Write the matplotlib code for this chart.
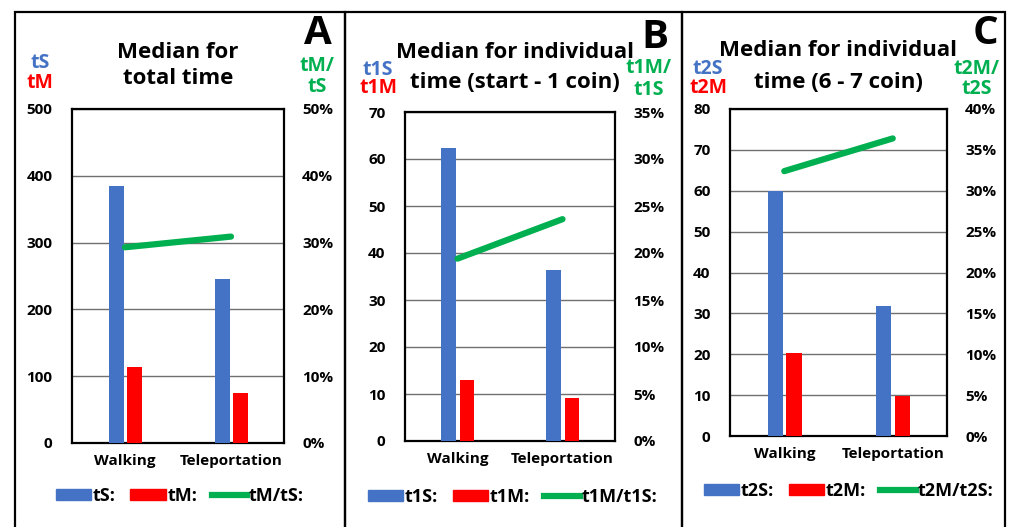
import matplotlib
matplotlib.use("Agg")
import matplotlib.pyplot as plt
from matplotlib.patches import Patch, Rectangle
from matplotlib.lines import Line2D
from matplotlib.ticker import FuncFormatter

W, H = 1009, 527
BLUE, RED, GREEN = "#4472C4", "#FF0000", "#00B050"

CATS = ["Walking", "Teleportation"]

# panel A: total time
A_S = [384, 246]
A_M = [114, 75]
A_RATIO = [29.3, 30.9]
# panel B: start - 1 coin
B_S = [62.3, 36.3]
B_M = [13.0, 9.2]
B_RATIO = [19.4, 23.6]
# panel C: 6 - 7 coin
C_S = [60, 31.9]
C_M = [20.4, 9.9]
C_RATIO = [32.4, 36.4]

plt.rcParams["font.family"] = ["Open Sans", "DejaVu Sans"]
plt.rcParams["font.weight"] = "bold"

fig = plt.figure(figsize=(W / 100, H / 100), dpi=100)


def px(x, y):
    return x / W, 1 - y / H


def panel(box, s, m, r, ymax, ystep, rmax, rstep, sname, mname, title, letter, txt):
    l, t, rgt, b = box
    ax = fig.add_axes([l / W, (H - b) / H, (rgt - l) / W, (b - t) / H])
    x = range(len(CATS))
    ax.bar([i - 0.083 for i in x], s, width=0.14, color=BLUE, zorder=3)
    ax.bar([i + 0.09 for i in x], m, width=0.14, color=RED, zorder=3)
    ax.set_xlim(-0.5, 1.5)
    ax.set_ylim(0, ymax)
    ax.set_yticks([i * ystep for i in range(int(round(ymax / ystep)) + 1)])
    ax.yaxis.grid(True, color="#707070", lw=1, zorder=0)
    ax.set_xticks(list(x))
    ax.set_xticklabels(CATS)
    ax.tick_params(length=0, labelsize=11, pad=14)
    ax.tick_params(axis="x", pad=8)
    for sp in ax.spines.values():
        sp.set_linewidth(1.6)

    ax2 = ax.twinx()
    ax2.plot(list(x), r, color=GREEN, lw=4.5, solid_capstyle="round", zorder=4)
    ax2.set_ylim(0, rmax)
    ax2.set_yticks([i * rstep for i in range(int(round(rmax / rstep)) + 1)])
    ax2.yaxis.set_major_formatter(FuncFormatter(lambda v, p: f"{v:.0f}%"))
    ax2.tick_params(length=0, labelsize=11, pad=13)
    for sp in ax2.spines.values():
        sp.set_visible(False)

    # title and axis headings
    tx, ty1, ty2 = title[1]
    fig.text(*px(tx, ty1), title[0][0], ha="center", va="center", fontsize=16)
    fig.text(*px(tx, ty2), title[0][1], ha="center", va="center", fontsize=16)
    fig.text(*px(*letter[1]), letter[0], ha="center", va="center", fontsize=29)
    lx, ly1, ly2, rx, ry1, ry2 = txt
    fig.text(*px(lx, ly1), sname, color=BLUE, ha="center", va="center", fontsize=14)
    fig.text(*px(lx, ly2), mname, color=RED, ha="center", va="center", fontsize=14)
    fig.text(*px(rx, ry1), mname + "/", color=GREEN, ha="center", va="center", fontsize=14)
    fig.text(*px(rx, ry2), sname, color=GREEN, ha="center", va="center", fontsize=14)
    return ax


def legend(ax, sname, mname, x0, y0):
    handles = [Patch(color=BLUE), Patch(color=RED), Line2D([], [], color=GREEN, lw=4.5)]
    labels = [sname + ":", mname + ":", f"{mname}/{sname}:"]
    fig.legend(handles, labels, loc="center left", bbox_to_anchor=px(x0, y0),
               ncol=3, frameon=False, fontsize=13, handlelength=1.95,
               handleheight=0.6, handletextpad=0.1, columnspacing=0.8,
               borderpad=0, borderaxespad=0)


axA = panel((72, 109, 284, 443), A_S, A_M, A_RATIO, 500, 100, 50, 10, "tS", "tM",
            (["Median for", "total time"], (178, 52, 79)), ("A", (318, 34)),
            (40, 63, 83, 317, 66, 87))
legend(axA, "tS", "tM", 56, 496)

axB = panel((405, 112, 615, 441), B_S, B_M, B_RATIO, 70, 10, 35, 5, "t1S", "t1M",
            (["Median for individual", "time (start - 1 coin)"], (515, 53, 83)), ("B", (655, 37)),
            (378, 70, 88, 649, 68, 90))
legend(axB, "t1S", "t1M", 368, 497)

axC = panel((730, 109, 947, 436), C_S, C_M, C_RATIO, 80, 10, 40, 5, "t2S", "t2M",
            (["Median for individual", "time (6 - 7 coin)"], (838, 51, 82)), ("C", (985, 33)),
            (708, 69, 88, 977, 69, 89))
legend(axC, "t2S", "t2M", 704, 491)

# panel frames
for x0, x1 in [(15, 345), (345, 682), (682, 1005)]:
    fig.patches.append(Rectangle(px(x0, 540), (x1 - x0) / W, (540 - 12) / H,
                                 transform=fig.transFigure, fill=False,
                                 ec="black", lw=1.6))

fig.savefig("out.png", dpi=100)
